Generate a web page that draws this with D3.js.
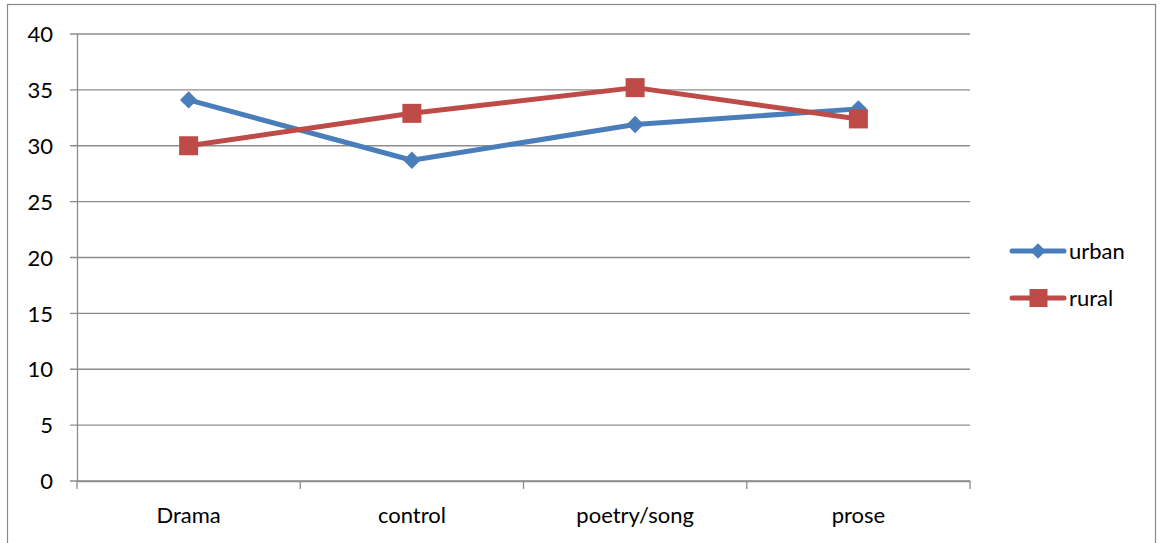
<!DOCTYPE html>
<html><head><meta charset="utf-8">
<script src="https://cdn.jsdelivr.net/npm/d3@7"></script>
<style>body{margin:0;background:#fff}svg{display:block}text{font-family:Lato,"Open Sans",sans-serif;fill:#000}</style>
</head><body>
<svg id="c" width="1161" height="543"></svg>
<script>
const categories = ["Drama", "control", "poetry/song", "prose"];
const urban = [34.1, 28.7, 31.9, 33.3];
const rural = [30.0, 32.9, 35.2, 32.4];
const yTicks = [0, 5, 10, 15, 20, 25, 30, 35, 40];
const seriesNames = ["urban", "rural"];

const svg = d3.select("#c");
const m = {l: 77, r: 970, t: 34, b: 481};
const FS = 22;
svg.append("rect").attr("x", 7.5).attr("y", 4.5).attr("width", 1148).attr("height", 560)
  .attr("fill", "none").attr("stroke", "#888").attr("stroke-width", 1.2);

const x = d3.scaleBand().domain(categories).range([m.l, m.r]).paddingInner(0).paddingOuter(0);
const y = d3.scaleLinear().domain([0, 40]).range([m.b, m.t]);

// gridlines
svg.append("g").selectAll("line").data(yTicks).join("line")
  .attr("x1", m.l - 7).attr("x2", m.r).attr("y1", d => y(d)).attr("y2", d => y(d))
  .attr("stroke", "#8c8c8c").attr("stroke-width", 1.3);

// y axis
const ya = svg.append("g").attr("transform", `translate(${m.l},0)`)
  .call(d3.axisLeft(y).tickValues(yTicks).tickSize(0).tickPadding(24));
ya.select(".domain").attr("stroke", "#8c8c8c").attr("stroke-width", 1.3);
ya.selectAll("text").attr("font-size", FS).attr("dy", "0.35em").style("font-family", "Lato, sans-serif");

// x axis
const xa = svg.append("g").attr("transform", `translate(0,${m.b})`)
  .call(d3.axisBottom(x).tickSize(0).tickPadding(26));
xa.select(".domain").attr("stroke", "#8c8c8c").attr("stroke-width", 1.3);
xa.selectAll("text").attr("font-size", FS).style("font-family", "Lato, sans-serif");
const bounds = categories.map(c => x(c)).concat([m.r]);
svg.append("g").selectAll("line").data(bounds).join("line")
  .attr("x1", d => d).attr("x2", d => d).attr("y1", m.b).attr("y2", m.b + 8)
  .attr("stroke", "#8c8c8c").attr("stroke-width", 1.3);

const cx = c => x(c) + x.bandwidth() / 2;
const line = d3.line().x((d, i) => cx(categories[i])).y(d => y(d));
const colors = {urban: "#4a7ebb", rural: "#be4b48"};

function drawSeries(vals, name) {
  svg.append("path").datum(vals).attr("d", line).attr("fill", "none")
    .attr("stroke", colors[name]).attr("stroke-width", 5).attr("stroke-linejoin", "round");
}
function markers(vals, name) {
  const g = svg.append("g");
  if (name === "urban") {
    g.selectAll("path").data(vals).join("path")
      .attr("transform", (d, i) => `translate(${cx(categories[i])},${y(d)}) rotate(45)`)
      .attr("d", d3.symbol().type(d3.symbolSquare).size(150)()).attr("fill", colors[name]);
  } else {
    g.selectAll("rect").data(vals).join("rect")
      .attr("x", (d, i) => cx(categories[i]) - 9.5).attr("y", d => y(d) - 9.5)
      .attr("width", 19).attr("height", 19).attr("fill", colors[name]);
  }
}
drawSeries(urban, "urban");
drawSeries(rural, "rural");
markers(urban, "urban");
markers(rural, "rural");

// legend
const lg = svg.append("g");
seriesNames.forEach((n, i) => {
  const ly = 251 + i * 47;
  lg.append("line").attr("x1", 1012).attr("x2", 1064).attr("y1", ly).attr("y2", ly)
    .attr("stroke", colors[n]).attr("stroke-width", 5).attr("stroke-linecap", "round");
  if (n === "urban") {
    lg.append("path").attr("transform", `translate(1038,${ly}) rotate(45)`)
      .attr("d", d3.symbol().type(d3.symbolSquare).size(120)()).attr("fill", colors[n]);
  } else {
    lg.append("rect").attr("x", 1029.5).attr("y", ly - 9).attr("width", 18).attr("height", 18).attr("fill", colors[n]);
  }
  lg.append("text").attr("x", 1069).attr("y", ly).attr("dy", "0.35em").attr("font-size", FS).text(n);
});
</script>
</body></html>
